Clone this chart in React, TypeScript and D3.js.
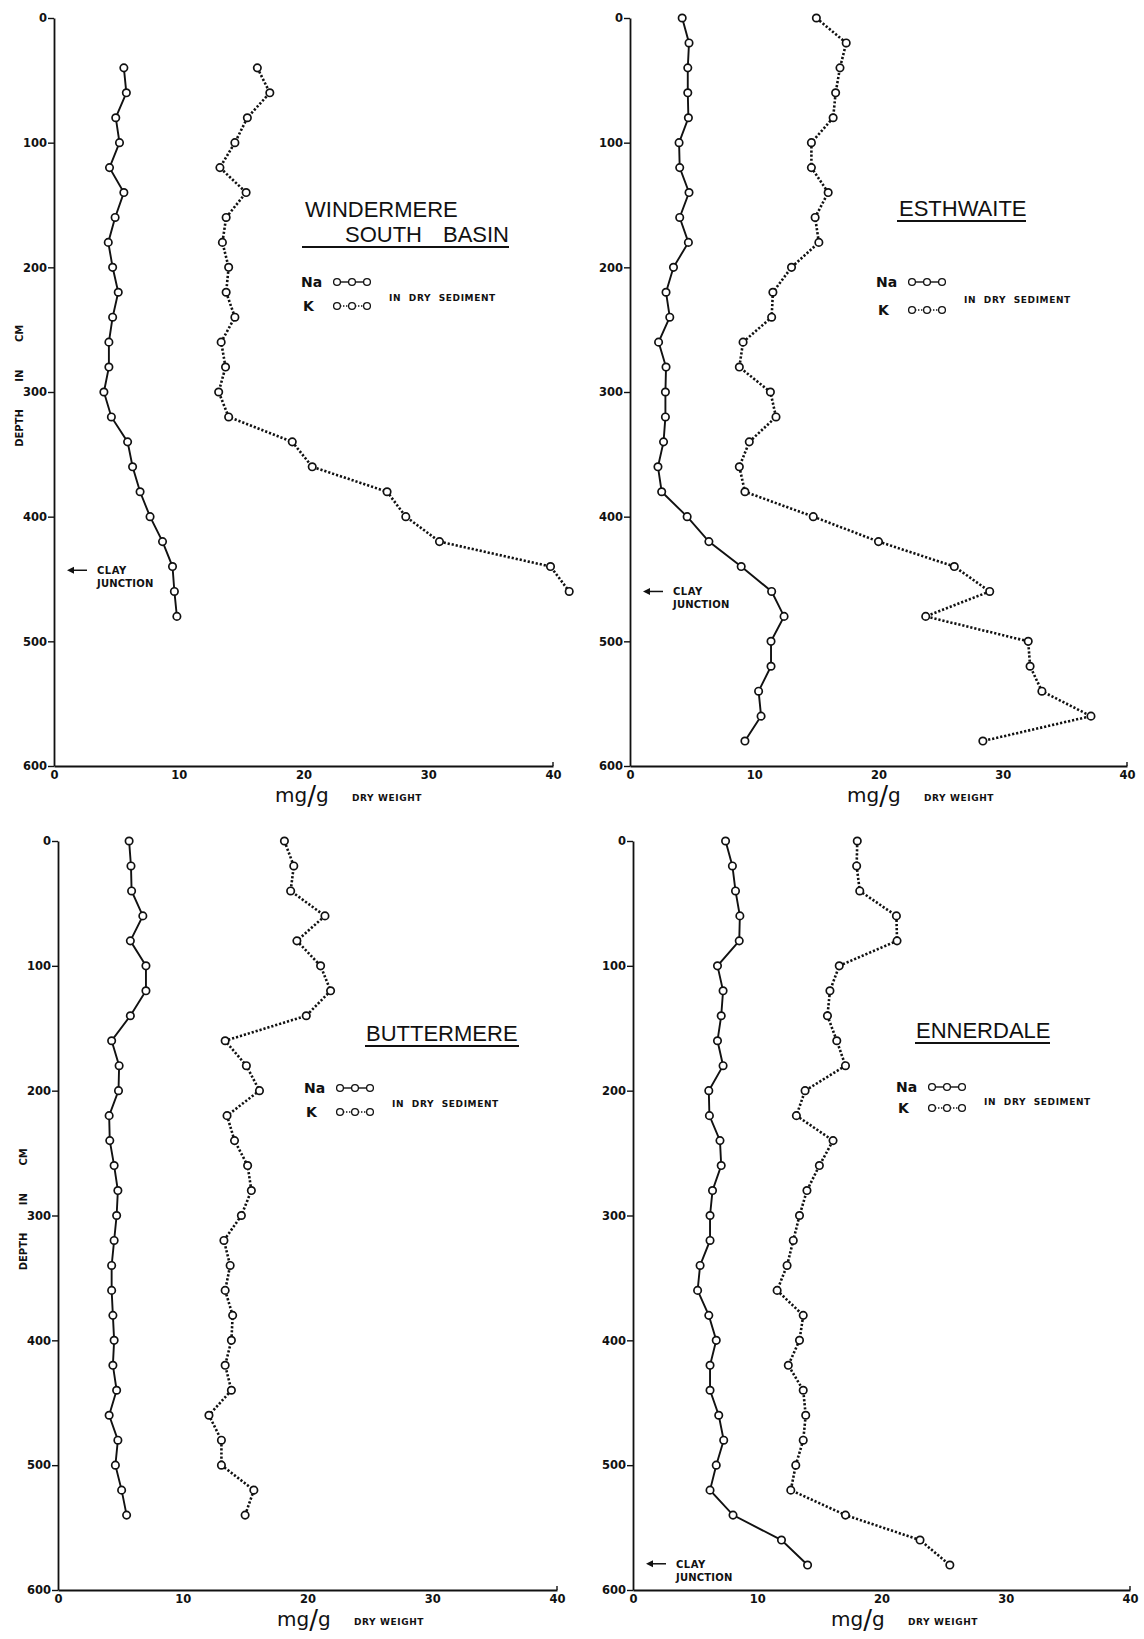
import { useEffect, useRef } from 'react';
import * as d3 from 'd3';

const DEPTH_TICKS = [0, 100, 200, 300, 400, 500, 600];
const VALUE_TICKS = [0, 10, 20, 30, 40];

// Windermere South Basin
const windermereNaDepth = [40, 60, 80, 100, 120, 140, 160, 180, 200, 220, 240, 260, 280, 300, 320, 340, 360, 380, 400, 420, 440, 460, 480];
const windermereNa = [5.6, 5.8, 4.95, 5.25, 4.45, 5.6, 4.9, 4.35, 4.7, 5.15, 4.7, 4.4, 4.4, 4.0, 4.6, 5.9, 6.3, 6.9, 7.7, 8.7, 9.5, 9.65, 9.85];
const windermereKDepth = [40, 60, 80, 100, 120, 140, 160, 180, 200, 220, 240, 260, 280, 300, 320, 340, 360, 380, 400, 420, 440, 460];
const windermereK = [16.3, 17.3, 15.5, 14.5, 13.3, 15.4, 13.8, 13.5, 14.0, 13.8, 14.5, 13.4, 13.75, 13.2, 14.0, 19.1, 20.7, 26.7, 28.2, 30.9, 39.8, 41.3];

// Esthwaite
const esthwaiteDepth = [0, 20, 40, 60, 80, 100, 120, 140, 160, 180, 200, 220, 240, 260, 280, 300, 320, 340, 360, 380, 400, 420, 440, 460, 480, 500, 520, 540, 560, 580];
const esthwaiteNa = [4.2, 4.75, 4.65, 4.65, 4.7, 3.95, 4.0, 4.75, 4.0, 4.7, 3.5, 2.9, 3.2, 2.3, 2.9, 2.85, 2.85, 2.7, 2.25, 2.55, 4.6, 6.35, 8.95, 11.4, 12.4, 11.35, 11.35, 10.35, 10.55, 9.25];
const esthwaiteK = [15.0, 17.4, 16.9, 16.55, 16.35, 14.6, 14.6, 15.95, 14.9, 15.2, 13.0, 11.5, 11.4, 9.1, 8.8, 11.3, 11.75, 9.6, 8.8, 9.25, 14.75, 20.0, 26.1, 28.95, 23.8, 32.05, 32.2, 33.15, 37.1, 28.4];

// Buttermere
const buttermereDepth = [0, 20, 40, 60, 80, 100, 120, 140, 160, 180, 200, 220, 240, 260, 280, 300, 320, 340, 360, 380, 400, 420, 440, 460, 480, 500, 520, 540];
const buttermereNa = [5.7, 5.85, 5.9, 6.8, 5.8, 7.05, 7.05, 5.8, 4.3, 4.9, 4.85, 4.1, 4.15, 4.5, 4.8, 4.7, 4.5, 4.3, 4.3, 4.4, 4.5, 4.4, 4.7, 4.1, 4.8, 4.6, 5.1, 5.5];
const buttermereK = [18.15, 18.9, 18.65, 21.4, 19.15, 21.05, 21.85, 19.9, 13.4, 15.1, 16.15, 13.55, 14.15, 15.2, 15.5, 14.7, 13.3, 13.8, 13.4, 14.0, 13.9, 13.4, 13.9, 12.1, 13.1, 13.1, 15.7, 15.0];

// Ennerdale
const ennerdaleDepth = [0, 20, 40, 60, 80, 100, 120, 140, 160, 180, 200, 220, 240, 260, 280, 300, 320, 340, 360, 380, 400, 420, 440, 460, 480, 500, 520, 540, 560, 580];
const ennerdaleNa = [7.45, 8.0, 8.25, 8.6, 8.55, 6.8, 7.25, 7.1, 6.8, 7.25, 6.1, 6.15, 7.0, 7.1, 6.4, 6.2, 6.2, 5.4, 5.2, 6.1, 6.7, 6.2, 6.2, 6.9, 7.3, 6.7, 6.2, 8.05, 11.95, 14.05];
const ennerdaleK = [18.05, 18.0, 18.25, 21.2, 21.25, 16.6, 15.85, 15.65, 16.4, 17.1, 13.85, 13.15, 16.1, 15.0, 14.0, 13.4, 12.9, 12.4, 11.6, 13.7, 13.4, 12.5, 13.7, 13.9, 13.7, 13.1, 12.7, 17.1, 23.1, 25.5];

const TICK_FONT = "'DejaVu Sans', sans-serif";
const TITLE_FONT = "'Liberation Sans', Arial, sans-serif";

interface Point {
  depth: number;
  value: number;
}

interface PanelConfig {
  titles: { text: string; x: number; y: number; anchor?: string }[];
  underline: [number, number, number];
  naDepth: number[];
  na: number[];
  kDepth: number[];
  k: number[];
  x0: number;
  x1: number;
  y0: number;
  y1: number;
  legend: { x: number; y: number; kGap: number };
  clayDepth: number | null;
  xTitleDx: number;
  showDepthLabel: boolean;
}

const panels: PanelConfig[] = [
  {
    titles: [
      { text: 'WINDERMERE', x: 305, y: 217 },
      { text: 'SOUTH', x: 345, y: 242 },
      { text: 'BASIN', x: 509, y: 242, anchor: 'end' },
    ],
    underline: [302, 509, 247],
    naDepth: windermereNaDepth,
    na: windermereNa,
    kDepth: windermereKDepth,
    k: windermereK,
    x0: 54,
    x1: 553,
    y0: 18,
    y1: 766,
    legend: { x: 301, y: 282, kGap: 24 },
    clayDepth: 443,
    xTitleDx: 221,
    showDepthLabel: true,
  },
  {
    titles: [{ text: 'ESTHWAITE', x: 899, y: 216 }],
    underline: [897, 1026, 221],
    naDepth: esthwaiteDepth,
    na: esthwaiteNa,
    kDepth: esthwaiteDepth,
    k: esthwaiteK,
    x0: 630,
    x1: 1127,
    y0: 18,
    y1: 766,
    legend: { x: 876, y: 282, kGap: 28 },
    clayDepth: 460,
    xTitleDx: 217,
    showDepthLabel: false,
  },
  {
    titles: [{ text: 'BUTTERMERE', x: 366, y: 1041 }],
    underline: [365, 519, 1046],
    naDepth: buttermereDepth,
    na: buttermereNa,
    kDepth: buttermereDepth,
    k: buttermereK,
    x0: 58,
    x1: 557,
    y0: 841,
    y1: 1590,
    legend: { x: 304, y: 1088, kGap: 24 },
    clayDepth: null,
    xTitleDx: 219,
    showDepthLabel: true,
  },
  {
    titles: [{ text: 'ENNERDALE', x: 916, y: 1038 }],
    underline: [915, 1050, 1043],
    naDepth: ennerdaleDepth,
    na: ennerdaleNa,
    kDepth: ennerdaleDepth,
    k: ennerdaleK,
    x0: 633,
    x1: 1130,
    y0: 841,
    y1: 1590,
    legend: { x: 896, y: 1087, kGap: 21 },
    clayDepth: 579,
    xTitleDx: 198,
    showDepthLabel: false,
  },
];

function toPoints(depths: number[], values: number[]): Point[] {
  return depths.map((depth, i) => ({ depth, value: values[i] }));
}

function Panel({ config }: { config: PanelConfig }) {
  const ref = useRef<SVGGElement>(null);

  useEffect(() => {
    if (!ref.current) return;
    const g = d3.select(ref.current);
    g.selectAll('*').remove();

    const x = d3.scaleLinear().domain([0, 40]).range([config.x0, config.x1]);
    const y = d3.scaleLinear().domain([0, 600]).range([config.y0, config.y1]);

    // depth axis
    g.append('g')
      .attr('transform', `translate(${config.x0},0)`)
      .call(d3.axisLeft(y).tickValues(DEPTH_TICKS).tickSize(6).tickSizeOuter(0).tickPadding(1))
      .call((axis) => {
        axis.select('.domain').attr('stroke', '#111').attr('stroke-width', 1.8);
        axis.selectAll('.tick line').attr('stroke', '#111').attr('stroke-width', 1.4);
        axis
          .selectAll('.tick text')
          .attr('fill', '#111')
          .attr('font-size', 11.5)
          .attr('font-weight', 'bold')
          .attr('font-family', TICK_FONT);
      });

    // value axis
    g.append('g')
      .attr('transform', `translate(0,${config.y1})`)
      .call(d3.axisBottom(x).tickValues(VALUE_TICKS).tickSize(0).tickSizeOuter(0).tickPadding(5))
      .call((axis) => {
        axis.select('.domain').attr('stroke', '#111').attr('stroke-width', 1.8);
        axis
          .selectAll('.tick text')
          .attr('fill', '#111')
          .attr('font-size', 11.5)
          .attr('font-weight', 'bold')
          .attr('font-family', TICK_FONT);
      });
    g.append('line')
      .attr('x1', config.x1)
      .attr('x2', config.x1)
      .attr('y1', config.y1)
      .attr('y2', config.y1 - 4)
      .attr('stroke', '#111')
      .attr('stroke-width', 1.4);

    // x-axis title
    const xt = g
      .append('text')
      .attr('x', config.x0 + config.xTitleDx)
      .attr('y', config.y1 + 36)
      .attr('fill', '#111')
      .attr('font-family', TICK_FONT);
    xt.append('tspan').attr('font-size', 20).text('mg');
    xt.append('tspan').attr('font-size', 26).attr('dy', 3).text('/');
    xt.append('tspan').attr('font-size', 20).attr('dy', -3).text('g');
    g.append('text')
      .attr('x', config.x0 + config.xTitleDx + 77)
      .attr('y', config.y1 + 35)
      .attr('fill', '#111')
      .attr('font-size', 9)
      .attr('font-weight', 'bold')
      .attr('font-family', TICK_FONT)
      .attr('letter-spacing', 0.6)
      .text('DRY WEIGHT');

    if (config.showDepthLabel) {
      const cy = y(295);
      g.append('text')
        .attr('transform', `translate(${config.x0 - 31},${cy}) rotate(-90)`)
        .attr('text-anchor', 'middle')
        .attr('fill', '#111')
        .attr('font-size', 10)
        .attr('font-weight', 'bold')
        .attr('font-family', TICK_FONT)
        .attr('word-spacing', 24)
        .text('DEPTH IN CM');
    }

    // series
    const line = d3
      .line<Point>()
      .x((p) => x(p.value))
      .y((p) => y(p.depth));

    const naPoints = toPoints(config.naDepth, config.na);
    const kPoints = toPoints(config.kDepth, config.k);

    g.append('path')
      .datum(kPoints)
      .attr('fill', 'none')
      .attr('stroke', '#111')
      .attr('stroke-width', 2.6)
      .attr('stroke-dasharray', '2.2 1.9')
      .attr('d', line);

    g.append('path')
      .datum(naPoints)
      .attr('fill', 'none')
      .attr('stroke', '#111')
      .attr('stroke-width', 1.9)
      .attr('d', line);

    g.append('g')
      .selectAll('circle')
      .data([...naPoints, ...kPoints])
      .join('circle')
      .attr('cx', (p) => x(p.value))
      .attr('cy', (p) => y(p.depth))
      .attr('r', 3.7)
      .attr('fill', '#fff')
      .attr('stroke', '#111')
      .attr('stroke-width', 1.7);

    // title
    config.titles.forEach((t) => {
      g.append('text')
        .attr('x', t.x)
        .attr('y', t.y)
        .attr('text-anchor', t.anchor ?? 'start')
        .attr('fill', '#111')
        .attr('font-size', 22)
        .attr('font-family', TITLE_FONT)
        .text(t.text);
    });
    const [ux1, ux2, uy] = config.underline;
    g.append('line')
      .attr('x1', ux1)
      .attr('x2', ux2)
      .attr('y1', uy)
      .attr('y2', uy)
      .attr('stroke', '#111')
      .attr('stroke-width', 2.2);

    // legend
    const { x: lx, y: ly, kGap } = config.legend;
    const legendFont = (sel: d3.Selection<SVGTextElement, unknown, null, undefined>) =>
      sel.attr('fill', '#111').attr('font-family', TICK_FONT).attr('font-weight', 'bold');
    g.append('text').attr('x', lx).attr('y', ly + 5).attr('font-size', 14).call(legendFont).text('Na');
    g.append('text').attr('x', lx + 2).attr('y', ly + kGap + 5).attr('font-size', 14).call(legendFont).text('K');
    g.append('text')
      .attr('x', lx + 88)
      .attr('y', ly + kGap / 2 + 7)
      .attr('font-size', 9)
      .attr('letter-spacing', 0.6)
      .attr('word-spacing', 4)
      .call(legendFont)
      .text('IN DRY SEDIMENT');

    const legendXs = [lx + 36, lx + 51, lx + 66];
    g.append('line')
      .attr('x1', legendXs[0])
      .attr('x2', legendXs[2])
      .attr('y1', ly)
      .attr('y2', ly)
      .attr('stroke', '#111')
      .attr('stroke-width', 1.4);
    g.append('line')
      .attr('x1', legendXs[0])
      .attr('x2', legendXs[2])
      .attr('y1', ly + kGap)
      .attr('y2', ly + kGap)
      .attr('stroke', '#111')
      .attr('stroke-width', 1.6)
      .attr('stroke-dasharray', '1.4 1.6');
    [ly, ly + kGap].forEach((cy) => {
      g.append('g')
        .selectAll('circle')
        .data(legendXs)
        .join('circle')
        .attr('cx', (d) => d)
        .attr('cy', cy)
        .attr('r', 3.4)
        .attr('fill', '#fff')
        .attr('stroke', '#111')
        .attr('stroke-width', 1.3);
    });

    // clay junction
    if (config.clayDepth !== null) {
      const cy = y(config.clayDepth);
      const ax = config.x0 + 13;
      g.append('line')
        .attr('x1', ax + 3)
        .attr('x2', ax + 20)
        .attr('y1', cy)
        .attr('y2', cy)
        .attr('stroke', '#111')
        .attr('stroke-width', 1.5);
      g.append('path')
        .attr('d', `M${ax},${cy} L${ax + 7},${cy - 3.5} L${ax + 7},${cy + 3.5} Z`)
        .attr('fill', '#111');
      g.append('text')
        .attr('x', ax + 30)
        .attr('y', cy + 4)
        .attr('font-size', 10)
        .attr('letter-spacing', 0.5)
        .call(legendFont)
        .text('CLAY');
      g.append('text')
        .attr('x', ax + 30)
        .attr('y', cy + 17)
        .attr('font-size', 10)
        .attr('letter-spacing', 0.2)
        .call(legendFont)
        .text('JUNCTION');
    }
  }, [config]);

  return <g ref={ref} />;
}

export default function App() {
  return (
    <svg
      width={1144}
      height={1639}
      viewBox="0 0 1144 1639"
      style={{ position: 'absolute', left: 0, top: 0, background: '#fff' }}
    >
      <rect width={1144} height={1639} fill="#fff" />
      {panels.map((config, i) => (
        <Panel key={i} config={config} />
      ))}
    </svg>
  );
}
